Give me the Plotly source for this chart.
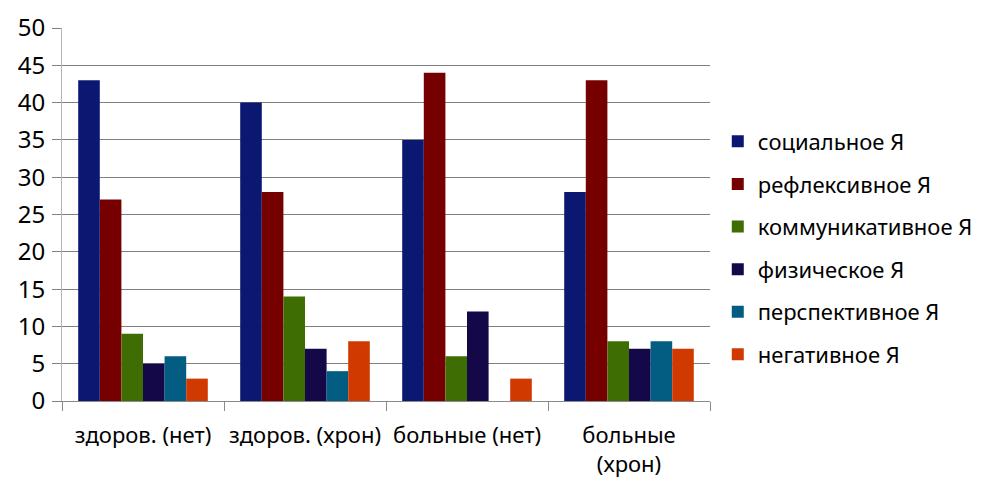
import plotly.graph_objects as go

categories = ["здоров. (нет)", "здоров. (хрон)", "больные (нет)", "больные<br>(хрон)"]

series_names = [
    "социальное Я",
    "рефлексивное Я",
    "коммуникативное Я",
    "физическое Я",
    "перспективное Я",
    "негативное Я",
]

social = [43, 40, 35, 28]
reflexive = [27, 28, 44, 43]
communicative = [9, 14, 6, 8]
physical = [5, 7, 12, 7]
perspective = [6, 4, 0, 8]
negative = [3, 8, 3, 7]

colors = ["#0b1872", "#760000", "#3e6d04", "#140848", "#035c82", "#d03a00"]

values = [social, reflexive, communicative, physical, perspective, negative]

FONT = "Noto Sans"

fig = go.Figure()
for i, (name, vals, col) in enumerate(zip(series_names, values, colors)):
    fig.add_trace(go.Bar(
        x=categories,
        y=vals,
        name=name,
        marker=dict(color=col, line=dict(width=0)),
        legendgroup=f"g{i}",
    ))

fig.update_layout(
    width=984,
    height=481,
    margin=dict(l=62, r=274, t=28, b=80, autoexpand=False),
    paper_bgcolor="white",
    plot_bgcolor="white",
    barmode="group",
    bargap=0.2,
    bargroupgap=0,
    font=dict(family=FONT, color="black"),
    legend=dict(
        x=1.012,
        y=0.41,
        xanchor="left",
        yanchor="middle",
        font=dict(size=22, family=FONT),
        tracegroupgap=11,
        itemwidth=30,
    ),
    xaxis=dict(
        automargin=False,
        showgrid=False,
        showline=True,
        linecolor="#8a8a8a",
        linewidth=1,
        ticks="outside",
        tickson="boundaries",
        ticklen=9,
        tickcolor="#8a8a8a",
        tickangle=0,
        tickfont=dict(size=22, family=FONT),
        ticklabelstandoff=15,
    ),
    yaxis=dict(
        automargin=False,
        range=[0, 50],
        dtick=5,
        showgrid=True,
        gridcolor="#808080",
        gridwidth=1,
        zeroline=False,
        showline=True,
        linecolor="#b5b5b5",
        ticks="outside",
        ticklen=9,
        tickcolor="#808080",
        tickfont=dict(size=24, family=FONT),
        ticklabelstandoff=2,
    ),
)

fig.write_html("out.html")
